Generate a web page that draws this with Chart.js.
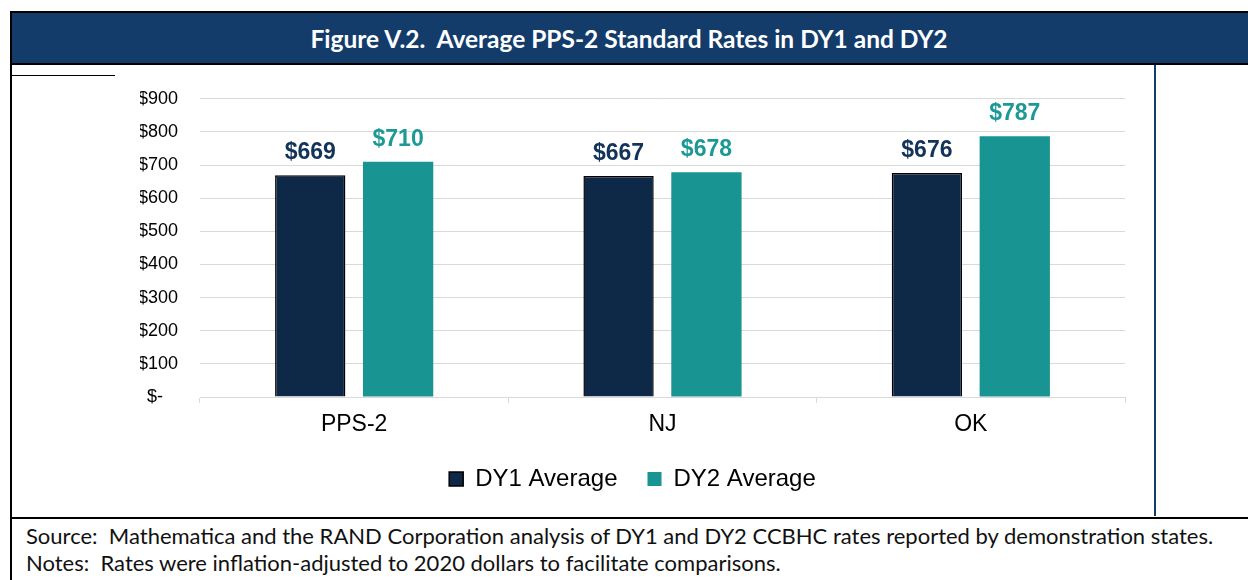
<!DOCTYPE html>
<html>
<head>
<meta charset="utf-8">
<script src="https://cdn.jsdelivr.net/npm/chart.js@4.4.1/dist/chart.umd.min.js"></script>
<style>
  body { margin: 0; width: 1248px; height: 580px; background: #fff; position: relative; overflow: hidden; }
  .line { position: absolute; background: #000; }
  #header { position: absolute; left: 10px; top: 12px; width: 1238px; height: 52px; background: #133C6B;
            color: #fff; font: bold 24.5px Lato, "Open Sans", sans-serif; text-align: center; line-height: 54px; }
  #chartBox { position: absolute; left: 12px; top: 66px; width: 1142px; height: 435px; }
  .note { position: absolute; left: 26px; font: 22px Lato, "Open Sans", sans-serif; line-height: 26px; color: #111; white-space: pre; }
</style>
</head>
<body>
<div id="header">Figure V.2.&nbsp; Average PPS-2 Standard Rates in DY1 and DY2</div>
<div class="line" style="left:10px;top:11px;width:1238px;height:2px;"></div>
<div class="line" style="left:10px;top:63px;width:1238px;height:2px;"></div>
<div class="line" style="left:10px;top:11px;width:2px;height:569px;"></div>
<div class="line" style="left:10px;top:75px;width:105px;height:1px;"></div>
<div class="line" style="left:1154px;top:65px;width:2px;height:451px;background:#133C6B;"></div>
<div class="line" style="left:10px;top:517px;width:1238px;height:2px;"></div>
<div id="chartBox"><canvas id="ratesChart"></canvas></div>
<div class="note" style="top:523px;">Source:  Mathematica and the RAND Corporation analysis of DY1 and DY2 CCBHC rates reported by demonstration states.</div>
<div class="note" style="top:550px;">Notes:  Rates were inflation-adjusted to 2020 dollars to facilitate comparisons.</div>
<script>
const categories = ['PPS-2', 'NJ', 'OK'];
const dy1Values = [669, 667, 676];
const dy2Values = [710, 678, 787];
const seriesNames = ['DY1 Average', 'DY2 Average'];

const DY1_FILL = '#0E2947';
const DY2_FILL = '#189593';

// dollar value printed above each bar
const barLabels = {
  id: 'barLabels',
  afterDatasetsDraw(chart) {
    const ctx = chart.ctx;
    chart.data.datasets.forEach((ds, i) => {
      const meta = chart.getDatasetMeta(i);
      meta.data.forEach((bar, j) => {
        ctx.save();
        ctx.font = 'bold 23px "Liberation Sans", Arial, sans-serif';
        ctx.fillStyle = ds.labelColor;
        ctx.textAlign = 'center';
        ctx.textBaseline = 'alphabetic';
        ctx.fillText('$' + ds.data[j], bar.x, bar.y - 16);
        ctx.restore();
      });
    });
  }
};

const ctx = document.getElementById('ratesChart').getContext('2d');
const ratesChart = new Chart(ctx, {
  type: 'bar',
  data: {
    labels: categories,
    datasets: [
      {
        label: seriesNames[0],
        data: dy1Values,
        backgroundColor: DY1_FILL,
        borderColor: '#000',
        borderWidth: 1.5,
        labelColor: '#13345A',
        categoryPercentage: 0.57,
        barPercentage: 0.8,
      },
      {
        label: seriesNames[1],
        data: dy2Values,
        backgroundColor: DY2_FILL,
        borderWidth: 0,
        labelColor: '#1C9996',
        categoryPercentage: 0.57,
        barPercentage: 0.8,
      },
    ],
  },
  options: {
    responsive: true,
    maintainAspectRatio: false,
    animation: false,
    layout: { padding: { left: 128, right: 29, top: 24, bottom: 0 } },
    scales: {
      x: {
        grid: { drawOnChartArea: false, tickLength: 6, color: '#D9D9D9' },
        border: { color: '#D9D9D9' },
        ticks: { color: '#000', padding: 8, font: { family: '"Liberation Sans", Arial', size: 23 } },
        afterFit(scale) { scale.height = 40; },
      },
      y: {
        min: 0, max: 900,
        grid: { color: '#D9D9D9', drawTicks: false },
        border: { display: false },
        ticks: {
          stepSize: 100,
          padding: 22,
          color: '#000',
          font: { family: '"Liberation Sans", Arial', size: 18 },
          callback: (v) => v === 0 ? '$-   ' : '$' + v,
        },
        afterFit(scale) { scale.width = 60; },
      },
    },
    plugins: {
      legend: {
        position: 'bottom',
        labels: {
          boxWidth: 14,
          boxHeight: 14,
          padding: 30,
          color: '#000',
          font: { family: '"Liberation Sans", Arial', size: 24 },
        },
      },
      tooltip: { enabled: false },
    },
  },
  plugins: [barLabels],
});
</script>
</body>
</html>
